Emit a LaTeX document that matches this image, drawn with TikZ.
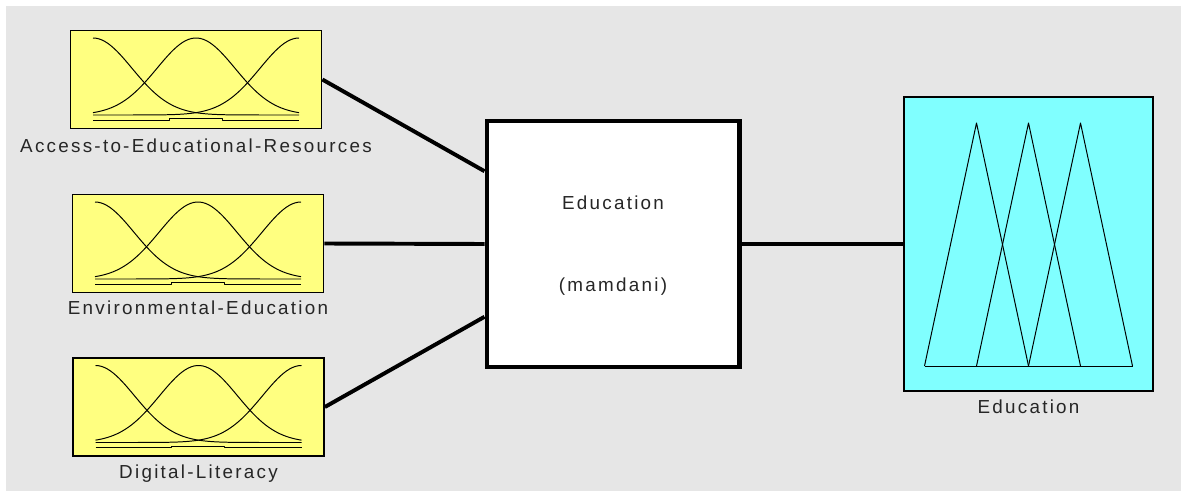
\documentclass[tikz,border=0pt]{standalone}
\usepackage{fontspec}
\usepackage{tikz}
\usetikzlibrary{positioning, calc}
\newfontfamily\matfont[LetterSpace=12]{Liberation Sans}
\definecolor{panelgray}{HTML}{E6E6E6}
\definecolor{mfyellow}{HTML}{FFFF80}
\definecolor{mfcyan}{HTML}{80FFFF}

\begin{document}
\begin{tikzpicture} [x=0.025cm, y=-0.025cm, node distance = 0.2cm, on grid,
	varbox/.style = {draw, line width=1.05pt, fill=mfyellow, inner sep=0pt,
		minimum width=6.28cm, minimum height=2.45cm},
	outbox/.style = {draw, line width=1.05pt, fill=mfcyan, inner sep=0pt,
		minimum width=6.23cm, minimum height=7.35cm},
	fisbox/.style = {draw, line width=3.5pt, fill=white, inner sep=0pt,
		minimum width=6.3cm, minimum height=6.15cm},
	txt/.style = {font=\matfont\fontsize{13.4pt}{16pt}\selectfont, text=black!85, inner sep=0pt},
	wire/.style = {line width=2.8pt},
	mf/.style = {line width=0.7pt, line join=round}]

\useasboundingbox (0,0) rectangle (1181,491);
\fill[white] (0,0) rectangle (1181,491);
\fill[panelgray] (6,6) rectangle (1181,491);

% input variables
\node (in1) [varbox] at (196,79.5) {};
\node (in2) [varbox] at (198,243.5) {};
\node (in3) [varbox] at (198.5,407) {};
\node (in1lbl) [txt, below = 0.225cm of in1.south] {Access-to-Educational-Resources};
\node (in2lbl) [txt, below = 0.18cm of in2.south] {Environmental-Education};
\node (in3lbl) [txt, below = of in3.south] {Digital-Literacy};

% membership functions (gaussian)
\foreach \v in {in1, in2, in3} {
	\begin{scope}[shift={(\v.center)}]
	\foreach \c in {-103, 0, 103}
		\draw[mf] plot[domain=-103:103, samples=70, smooth] (\x, {35.5 - 77*exp(-((\x-\c)/39)^2/2)});
	\draw[mf] (-103,40.5) -- (-27,40.5) -- (-27,39) -- (26,39) -- (26,40.5) -- (103,40.5);
	\end{scope}
}

% inference system
\node (fis) [fisbox] at (613,244) {};
\node (fisname) [txt] at (613,203) {Education};
\node (fistype) [txt] at (613,287) {(mamdani)};

% output variable
\node (out1) [outbox] at (1028.5,244) {};
\node (out1lbl) [txt, below = of out1.south] {Education};
\begin{scope}[shift={(out1.center)}]
\foreach \p in {-52, 0, 52}
	\draw[mf] (\p-52,122) -- (\p,-121) -- (\p+52,122);
\draw[mf] (-104,122) -- (104,122);
\end{scope}

\draw[wire] (in1.east) -- ($(fis.north west)!0.21!(fis.south west)$);
\draw[wire] (in2.east) -- (fis.west);
\draw[wire] (in3.east) -- ($(fis.north west)!0.79!(fis.south west)$);
\draw[wire] (fis.east) -- (out1.west);
\end{tikzpicture}
\end{document}
